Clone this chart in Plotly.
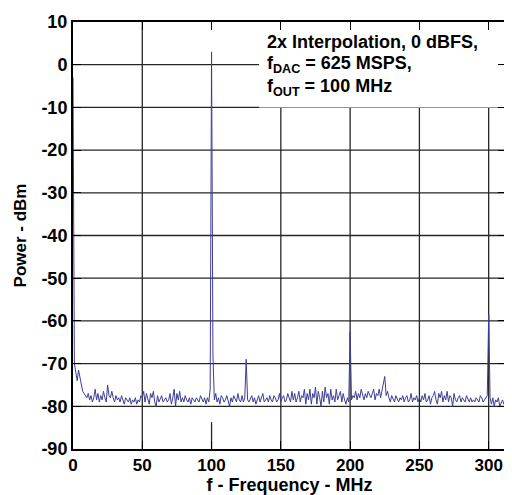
import plotly.graph_objects as go

# ---------------- data ----------------
freq_mhz = list(range(0, 313))

power_dbm = [
    -3, -70, -72, -74, -71.5, -73, -75, -76.5, -77, -77.5,
    -78, -77, -78.5, -77.5, -79, -78, -76, -78.5, -77, -79,
    -77.5, -78.5, -76.5, -78, -79, -75, -77.5, -78, -76.5, -78,
    -79, -77.5, -78.5, -78, -79, -77.5, -78.5, -79.5, -78, -78.5,
    -79, -78, -79.5, -78.5, -79, -78, -79.5, -78.5, -79, -77.5,
    -78, -76.5, -79, -77, -78.5, -79.5, -77, -78, -76.5, -79,
    -80, -77.5, -79, -78, -77.5, -79, -78.5, -78, -79, -78.5,
    -77, -79.5, -78, -76, -80, -77, -78.5, -76.5, -79, -78,
    -79, -77.5, -78.5, -79, -78, -79.5, -78, -78.5, -79, -78,
    -78.5, -79, -77.5, -78.5, -79, -78, -79.5, -78, -79, -76,
    3, -68, -78.5, -77, -79, -78, -79.5, -77.5, -78, -79,
    -78.5, -77.5, -79, -80, -78, -79, -77.5, -78.5, -79, -77,
    -78.5, -79, -77.5, -79, -78, -69, -78.5, -79, -78, -77.5,
    -79, -78, -79.5, -78.5, -77.5, -79, -78, -77, -79, -78.5,
    -78, -79, -77.5, -78.5, -79, -77.5, -78, -79, -78.5, -77,
    -79, -78, -77.5, -79, -78.5, -77, -78, -79, -76.5, -78.5,
    -77, -79, -78, -76.5, -79, -77.5, -78, -76, -79.5, -77,
    -78.5, -76, -79.5, -77, -78, -75.5, -79.5, -76.5, -78, -80,
    -76.5, -79, -75.5, -78, -77, -79.5, -76, -78.5, -77.5, -79,
    -76, -78.5, -77.5, -76.5, -79, -77, -78.5, -79.5, -78, -79,
    -62.5, -78.5, -77.5, -78, -76.5, -78.5, -77, -78, -76, -77.5,
    -78.5, -77, -78, -76.5, -77.5, -78, -77, -76, -78.5, -77,
    -77.5, -76, -78, -76.5, -75, -73, -77.5, -76.5, -78, -79,
    -77.5, -78.5, -79, -77.5, -78.5, -79, -78, -78.5, -77.5, -79,
    -78, -77.5, -79, -78.5, -77, -79, -78, -78.5, -77.5, -79,
    -78, -79, -77.5, -78.5, -77, -79, -78.5, -77.5, -79.5, -78,
    -77.5, -76.5, -78.5, -79.5, -77, -78, -76.5, -79, -77.5, -78.5,
    -76.5, -79, -77.5, -78, -80, -77, -78.5, -79, -78, -77.5,
    -79, -78, -78.5, -79, -77.5, -78.5, -79, -78, -79, -78.5,
    -79, -78, -78.5, -79, -77.5, -78, -79, -78.5, -78, -77.5,
    -58.5, -78, -79.5, -78, -80, -78.5, -79, -78, -80, -79,
    -78.5, -79.5, -78.5,
]

x_ticks = [0, 50, 100, 150, 200, 250, 300]
y_ticks = [-90, -80, -70, -60, -50, -40, -30, -20, -10, 0, 10]
x_grid = [50, 150, 200, 250, 300]
y_grid = [-80, -70, -60, -50, -40, -30, -20, -10, 0]

x_range = [0, 312.5]
y_range = [-90, 10]

note_lines = [
    "2x Interpolation, 0 dBFS,",
    "f<sub>DAC</sub> = 625 MSPS,",
    "f<sub>OUT</sub> = 100 MHz",
]

# ---------------- figure ----------------
# the page body adds an 8px offset, so the figure is 8px smaller each way
OFF = 8
W, H = 512 - OFF, 495 - OFF
ML, MR, MT, MB = 73 - OFF, 4, 15 - OFF, 44
PW, PH = W - ML - MR, H - MT - MB

FONT = "Liberation Sans, Arial, sans-serif"
LINE_COL = "#3d3d99"
GRID_COL = "#262626"

fig = go.Figure()
fig.add_trace(go.Scatter(
    x=freq_mhz, y=power_dbm, mode="lines",
    line=dict(color=LINE_COL, width=1),
    showlegend=False, hoverinfo="skip",
))

shapes = []
for gx in x_grid:
    shapes.append(dict(type="line", xref="x", yref="y", x0=gx, x1=gx,
                       y0=y_range[0], y1=y_range[1], layer="between",
                       line=dict(color=GRID_COL, width=1.3)))
for gy in y_grid:
    shapes.append(dict(type="line", xref="x", yref="y", x0=x_range[0], x1=x_range[1],
                       y0=gy, y1=gy, layer="between",
                       line=dict(color=GRID_COL, width=1.3)))
# white box behind the note (covers grid, not ticks)
shapes.append(dict(type="rect", xref="x", yref="y", x0=134.3, x1=x_range[1],
                   y0=-10, y1=y_range[1], layer="between",
                   fillcolor="white", line=dict(width=0)))
# short mark at 100 MHz near the bottom
shapes.append(dict(type="line", xref="x", yref="y", x0=100, x1=100,
                   y0=y_range[0], y1=-83.7, layer="between",
                   line=dict(color=GRID_COL, width=1.3)))
fig.update_layout(shapes=shapes)

note_y = [35, 58, 82]  # page-pixel centres
for txt, py in zip(note_lines, note_y):
    fig.add_annotation(
        text="<b>" + txt + "</b>", xref="paper", yref="paper",
        x=(266 - OFF - ML) / PW, y=(H - MB - (py - OFF)) / PH,
        xanchor="left", yanchor="middle", showarrow=False,
        font=dict(family=FONT, size=18, color="black"),
    )

axis_common = dict(
    showgrid=False, zeroline=False,
    showline=True, linecolor="black", linewidth=2, mirror="ticks",
    ticks="inside", ticklen=8, tickwidth=1, tickcolor="black",
    ticklabeloverflow="allow",
)

fig.update_xaxes(
    range=x_range, tickvals=x_ticks, ticktext=[str(v) for v in x_ticks],
    tickfont=dict(family=FONT, size=17, color="black", weight="bold"),
    title=dict(text="<b>f - Frequency - MHz</b>", standoff=3,
               font=dict(family=FONT, size=18, color="black")),
    **axis_common,
)
fig.update_yaxes(
    range=y_range, tickvals=y_ticks, ticktext=[str(v) for v in y_ticks],
    tickfont=dict(family=FONT, size=18, color="black", weight="bold"),
    title=dict(text="<b>Power - dBm</b>", standoff=10,
               font=dict(family=FONT, size=17, color="black")),
    **axis_common,
)

fig.update_layout(
    width=W, height=H,
    margin=dict(l=ML, r=MR, t=MT, b=MB, pad=0),
    paper_bgcolor="white", plot_bgcolor="white",
)

fig.write_html("out.html")
